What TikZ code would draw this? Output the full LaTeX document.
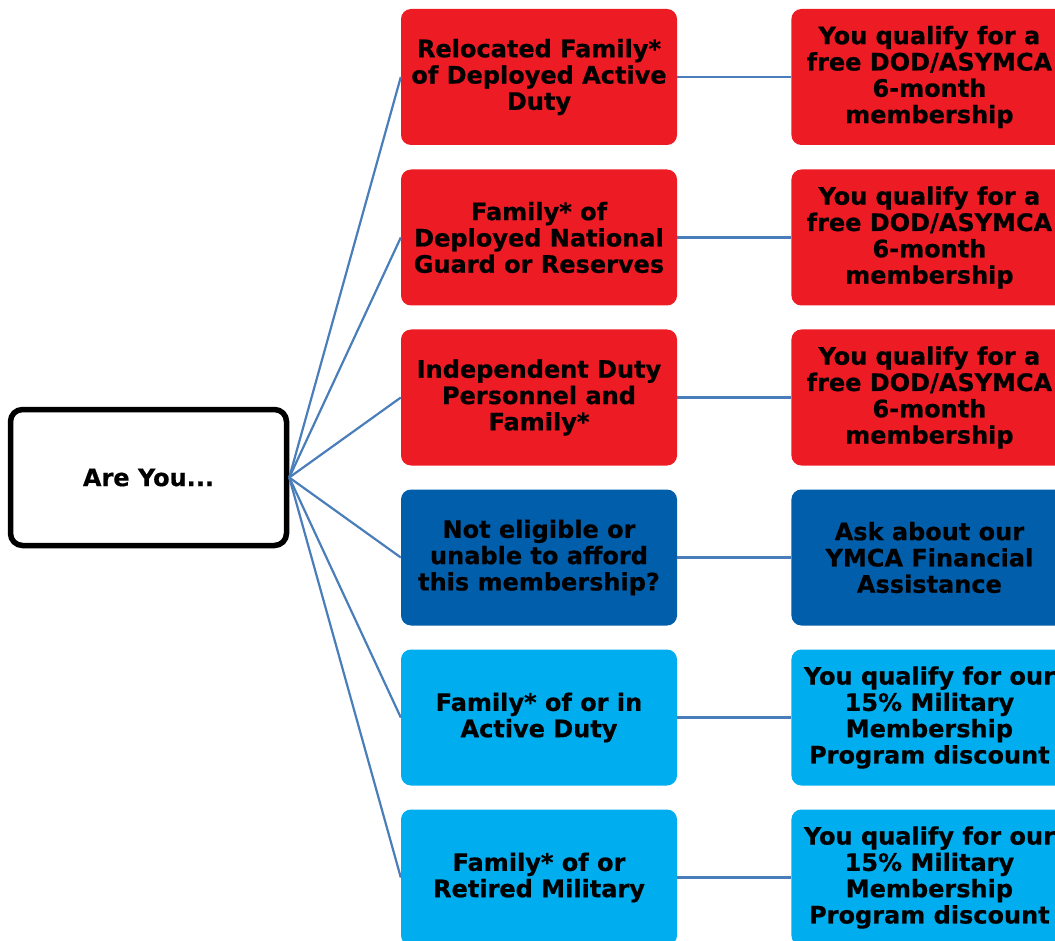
\documentclass[tikz,border=0pt]{standalone}
\usepackage{fontspec}
\setmainfont{DejaVu Sans}[BoldFeatures={FakeBold=0.6}]
\usetikzlibrary{positioning}
\definecolor{deployred}{RGB}{237,28,36}
\definecolor{assistblue}{RGB}{0,94,170}
\definecolor{activeblue}{RGB}{0,174,239}
\definecolor{linkblue}{RGB}{74,126,187}

\begin{document}
\begin{tikzpicture}[x=1pt,y=-1pt,
    box/.style={rounded corners=10pt, minimum width=276pt, minimum height=136pt,
      align=center, inner sep=0pt, font=\fontsize{24}{26.3}\selectfont\bfseries},
    link/.style={draw=linkblue, line width=2.2pt}]
  \useasboundingbox (0,0) rectangle (1055,941);
  \clip (0,0) rectangle (1055,941);
  % start box
  \node[box, draw=black, line width=5.5pt, rounded corners=12pt, fill=white,
    minimum width=276pt, minimum height=136pt] (areyou) at (148.5,477.5) {Are You...};
  % choices
  \node[box, fill=deployred] (relocated) at (539,77) {Relocated Family*\\of Deployed Active\\Duty};
  \node[box, fill=deployred] (guard) at (539,237.5) {Family* of\\Deployed National\\Guard or Reserves};
  \node[box, fill=deployred] (independent) at (539,397.5) {Independent Duty\\Personnel and\\Family*};
  \node[box, fill=assistblue] (noteligible) at (539,557.5) {Not eligible or\\unable to afford\\this membership?};
  \node[box, fill=activeblue] (active) at (539,717.5) {Family* of or in\\Active Duty};
  \node[box, fill=activeblue] (retired) at (539,877.5) {Family* of or\\Retired Military};
  % outcomes
  \node[box, fill=deployred, right=114pt of relocated] (freeA) {You qualify for a\\free DOD/ASYMCA\\6-month\\membership};
  \node[box, fill=deployred, right=114pt of guard] (freeB) {You qualify for a\\free DOD/ASYMCA\\6-month\\membership};
  \node[box, fill=deployred, right=114pt of independent] (freeC) {You qualify for a\\free DOD/ASYMCA\\6-month\\membership};
  \node[box, fill=assistblue, right=114pt of noteligible] (assist) {Ask about our\\YMCA Financial\\Assistance};
  \node[box, fill=activeblue, right=114pt of active] (discountA) {You qualify for our\\15\% Military\\Membership\\Program discount};
  \node[box, fill=activeblue, right=114pt of retired] (discountB) {You qualify for our\\15\% Military\\Membership\\Program discount};
  % connectors
  \draw[link] (areyou.east) -- (relocated.west);
  \draw[link] (areyou.east) -- (guard.west);
  \draw[link] (areyou.east) -- (independent.west);
  \draw[link] (areyou.east) -- (noteligible.west);
  \draw[link] (areyou.east) -- (active.west);
  \draw[link] (areyou.east) -- (retired.west);
  \draw[link] (relocated) -- (freeA);
  \draw[link] (guard) -- (freeB);
  \draw[link] (independent) -- (freeC);
  \draw[link] (noteligible) -- (assist);
  \draw[link] (active) -- (discountA);
  \draw[link] (retired) -- (discountB);
\end{tikzpicture}
\end{document}
